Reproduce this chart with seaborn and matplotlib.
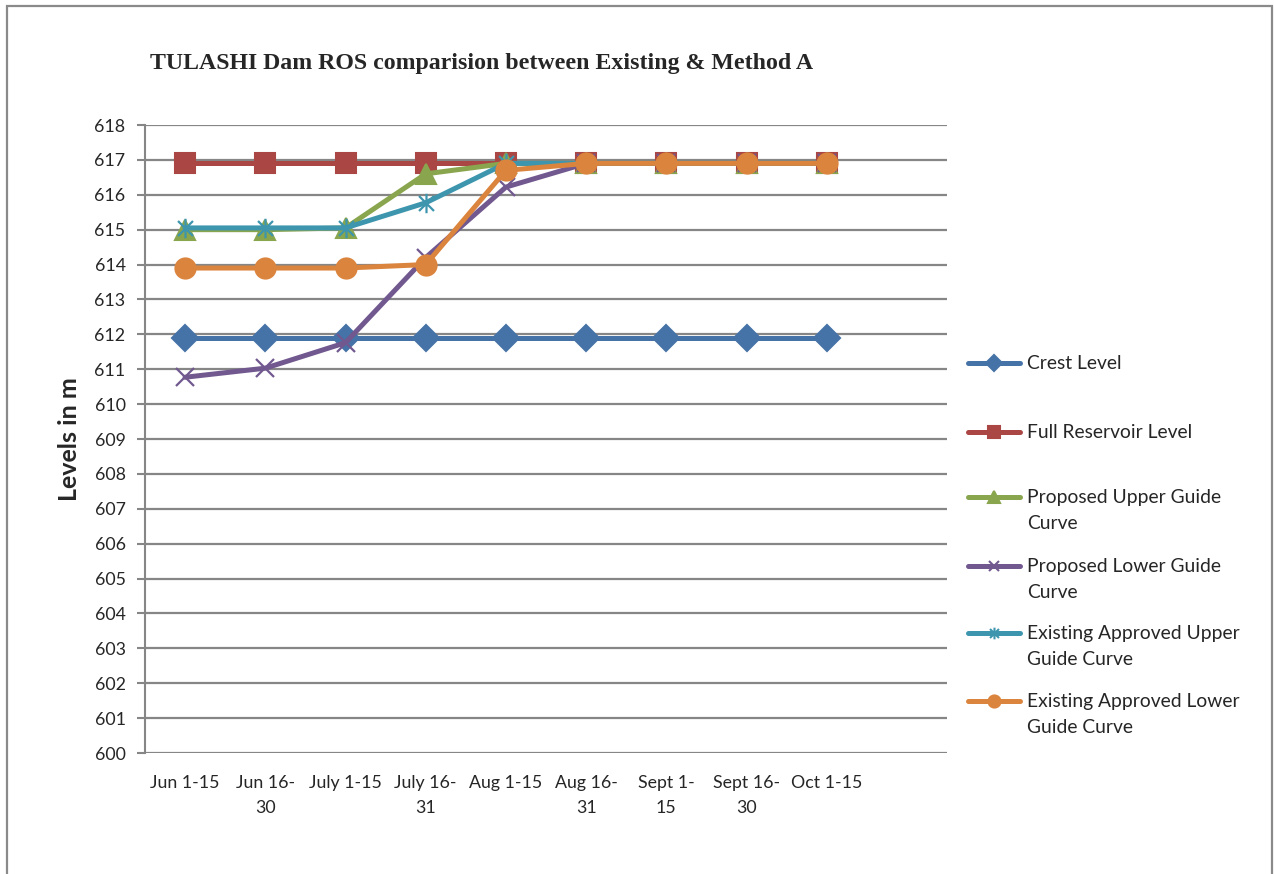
import matplotlib
matplotlib.use("Agg")
import matplotlib.pyplot as plt
import seaborn as sns
import numpy as np
from matplotlib.path import Path
from matplotlib.lines import Line2D
from matplotlib.patches import Rectangle

sns.set_style("white")
plt.rcParams['font.family'] = ['Lato', 'DejaVu Sans']

# 数据
periods = ["Jun 1-15", "Jun 16-\n30", "July 1-15", "July 16-\n31", "Aug 1-15",
           "Aug 16-\n31", "Sept 1-\n15", "Sept 16-\n30", "Oct 1-15"]
crest_level = [611.9, 611.9, 611.9, 611.9, 611.9, 611.9, 611.9, 611.9, 611.9]
full_reservoir = [616.9, 616.9, 616.9, 616.9, 616.9, 616.9, 616.9, 616.9, 616.9]
proposed_upper = [615.0, 615.0, 615.05, 616.6, 616.9, 616.9, 616.9, 616.9, 616.9]
proposed_lower = [610.77, 611.03, 611.76, 614.2, 616.22, 616.9, 616.9, 616.9, 616.9]
existing_upper = [615.05, 615.05, 615.05, 615.77, 616.9, 616.9, 616.9, 616.9, 616.9]
existing_lower = [613.9, 613.9, 613.9, 614.0, 616.7, 616.9, 616.9, 616.9, 616.9]

# 星号标记 (x + 竖线)
star_marker = Path([(-1, -1), (1, 1), (-1, 1), (1, -1), (0, -1.3), (0, 1.3)],
                   [Path.MOVETO, Path.LINETO, Path.MOVETO, Path.LINETO, Path.MOVETO, Path.LINETO])

series = [
    ("Crest Level", crest_level, "#4572A7", "D", 13.5, True),
    ("Full Reservoir Level", full_reservoir, "#AA4643", "s", 14.5, True),
    ("Proposed Upper Guide\nCurve", proposed_upper, "#89A54E", "^", 14.5, True),
    ("Proposed Lower Guide\nCurve", proposed_lower, "#71588F", "x", 13, False),
    ("Existing Approved Upper\nGuide Curve", existing_upper, "#3D96AE", star_marker, 14, False),
    ("Existing Approved Lower\nGuide Curve", existing_lower, "#DB843D", "o", 14.5, True),
]

fig = plt.figure(figsize=(12.74, 8.74), dpi=100)
ax = fig.add_axes([145 / 1274, 1 - 753 / 874, 802 / 1274, 628 / 874])

x = np.arange(len(periods))
for i, (name, vals, color, marker, ms, filled) in enumerate(series):
    kw = dict(markerfacecolor=color, markeredgecolor=color, markeredgewidth=1.5) if filled \
        else dict(markerfacecolor='none', markeredgecolor=color, markeredgewidth=1.6)
    sns.lineplot(x=x, y=vals, ax=ax, color=color, linewidth=3.6, marker=marker,
                 markersize=ms, zorder=3 + i, legend=False, **kw)

ax.set_xlim(-0.5, 9.5)
ax.set_ylim(600, 618)
ax.set_yticks(np.arange(600, 619, 1))
ax.set_xticks(x)
ax.set_xticklabels(periods, fontsize=12.8, linespacing=1.68, va='top')
ax.tick_params(axis='y', labelsize=12.8, length=6, width=1.5, color='#868686', pad=8, direction='out', left=True)
ax.tick_params(axis='x', length=0, pad=16)
ax.yaxis.grid(True, color='#868686', linewidth=1.6)
ax.set_axisbelow(True)
for side in ['top', 'right', 'bottom']:
    ax.spines[side].set_visible(False)
ax.spines['left'].set_color('#868686')
ax.spines['left'].set_linewidth(1.5)
ax.set_xlabel('')
ax.set_ylabel('Levels in m', fontsize=18, fontweight='bold', labelpad=10)

fig.text(482 / 1274, 1 - 63 / 874, "TULASHI Dam ROS comparision between Existing & Method A",
         ha='center', va='center', fontsize=17.2, fontweight='bold',
         family=['Liberation Serif', 'DejaVu Serif'])

# 图例（手动绘制，标记与首行对齐）
legend_y = [363, 432, 497, 566, 633, 701]
for (name, vals, color, marker, ms, filled), ly in zip(series, legend_y):
    yf = 1 - ly / 874
    fig.add_artist(Line2D([968 / 1274, 1020 / 1274], [yf, yf], color=color, linewidth=3.6,
                          solid_capstyle='round', transform=fig.transFigure))
    fig.add_artist(Line2D([994 / 1274], [yf], color=color, marker=marker, markersize=ms * 0.6,
                          markerfacecolor=color if filled else 'none', markeredgecolor=color,
                          markeredgewidth=1.5, transform=fig.transFigure))
    fig.text(1027 / 1274, yf + 8 / 874, name, ha='left', va='top', fontsize=13.9, linespacing=1.62)

# 外框
fig.add_artist(Rectangle((7 / 1274, -0.02), 1265 / 1274, 1.02 - 6 / 874, fill=False,
                         edgecolor='#8a8a8a', linewidth=1.6, transform=fig.transFigure))

plt.savefig('out.png', dpi=100)
plt.close()
